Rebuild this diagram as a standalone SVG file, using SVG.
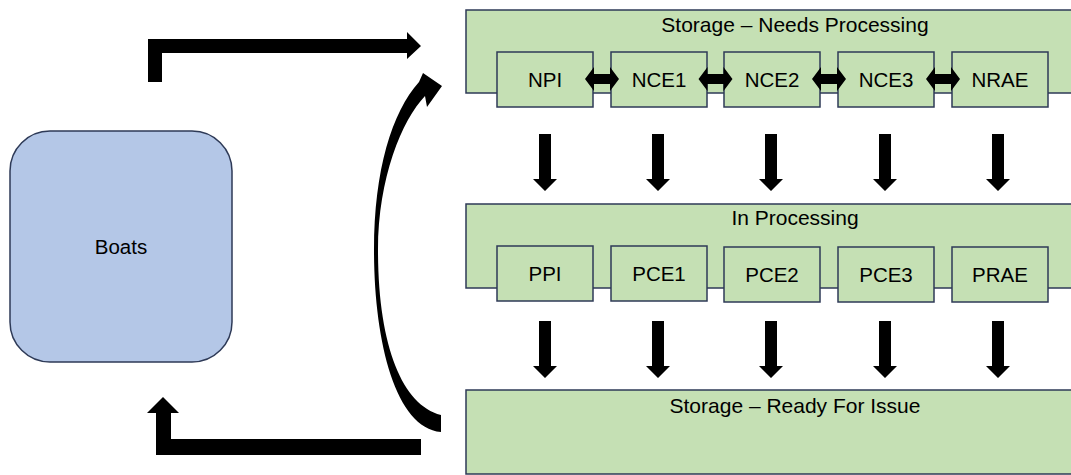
<svg xmlns="http://www.w3.org/2000/svg" width="1071" height="475" viewBox="0 0 1071 475">
<style>
.cont{fill:#c5e0b4;stroke:#2e3a57;stroke-width:1.5}
.box{fill:#c5e0b4;stroke:#2e3a57;stroke-width:1.5}
.boat{fill:#b4c7e7;stroke:#2e3a57;stroke-width:1.5}
.t{font-family:"Liberation Sans",Arial,sans-serif;font-size:20.5px;fill:#000;text-anchor:middle}
.h{font-size:21px}
.arr{fill:#000}
</style>
<defs>
<polygon id="down" points="-6,0 6,0 6,45 12,45 0,57 -12,45 -6,45"/>
<polygon id="dbl" points="-17,0 -8,-12 -8,-5 8,-5 8,-12 17,0 8,12 8,5 -8,5 -8,12"/>
</defs>
<rect width="1071" height="475" fill="#fff"/>

<g id="boats">
<rect class="boat" x="10" y="131" width="222" height="231" rx="40"/>
<text class="t" x="121" y="254">Boats</text>
</g>

<g id="storage-needs">
<rect class="cont" x="466" y="10" width="660" height="83"/>
<text class="t h" x="795" y="32">Storage – Needs Processing</text>
</g>
<g id="in-processing">
<rect class="cont" x="466" y="204" width="660" height="84"/>
<text class="t h" x="795" y="225">In Processing</text>
</g>
<g id="storage-ready">
<rect class="cont" x="466" y="390" width="660" height="84"/>
<text class="t h" x="795" y="413">Storage – Ready For Issue</text>
</g>

<g id="NPI"><rect class="box" x="497" y="52" width="96" height="55"/><text class="t" x="545" y="87">NPI</text></g>
<g id="NCE1"><rect class="box" x="611" y="52" width="96" height="55"/><text class="t" x="659" y="87">NCE1</text></g>
<g id="NCE2"><rect class="box" x="724" y="52" width="96" height="55"/><text class="t" x="772" y="87">NCE2</text></g>
<g id="NCE3"><rect class="box" x="838" y="52" width="96" height="55"/><text class="t" x="886" y="87">NCE3</text></g>
<g id="NRAE"><rect class="box" x="952" y="52" width="96" height="55"/><text class="t" x="1000" y="87">NRAE</text></g>

<g id="PPI"><rect class="box" x="497" y="246" width="96" height="55"/><text class="t" x="545" y="281">PPI</text></g>
<g id="PCE1"><rect class="box" x="611" y="246" width="96" height="55"/><text class="t" x="659" y="281">PCE1</text></g>
<g id="PCE2"><rect class="box" x="724" y="247" width="96" height="55"/><text class="t" x="772" y="282">PCE2</text></g>
<g id="PCE3"><rect class="box" x="838" y="247" width="96" height="55"/><text class="t" x="886" y="282">PCE3</text></g>
<g id="PRAE"><rect class="box" x="952" y="247" width="96" height="55"/><text class="t" x="1000" y="282">PRAE</text></g>

<g id="connectors" class="arr">
<use href="#dbl" x="602" y="79"/>
<use href="#dbl" x="715.5" y="79"/>
<use href="#dbl" x="829" y="79"/>
<use href="#dbl" x="943" y="79"/>

<use href="#down" x="545" y="134"/>
<use href="#down" x="658" y="134"/>
<use href="#down" x="771" y="134"/>
<use href="#down" x="885" y="134"/>
<use href="#down" x="998" y="134"/>

<use href="#down" x="545" y="321"/>
<use href="#down" x="658" y="321"/>
<use href="#down" x="771" y="321"/>
<use href="#down" x="885" y="321"/>
<use href="#down" x="998" y="321"/>

<polygon points="148,82 148,39 407,39 407,32 421,46 407,59 407,53 162,53 162,82"/>
<polygon points="421,439 421,455 156,455 156,413 147,413 163,397 179,413 171,413 171,439"/>
<path d="M441,432 C395,428 374,340 374,250 C374,170 392,112 419,82 L423,73 L442,86 L427,107 L425,96 C402,120 378,178 378,250 C378,345 402,405 441,415 Z"/>
</g>
</svg>
